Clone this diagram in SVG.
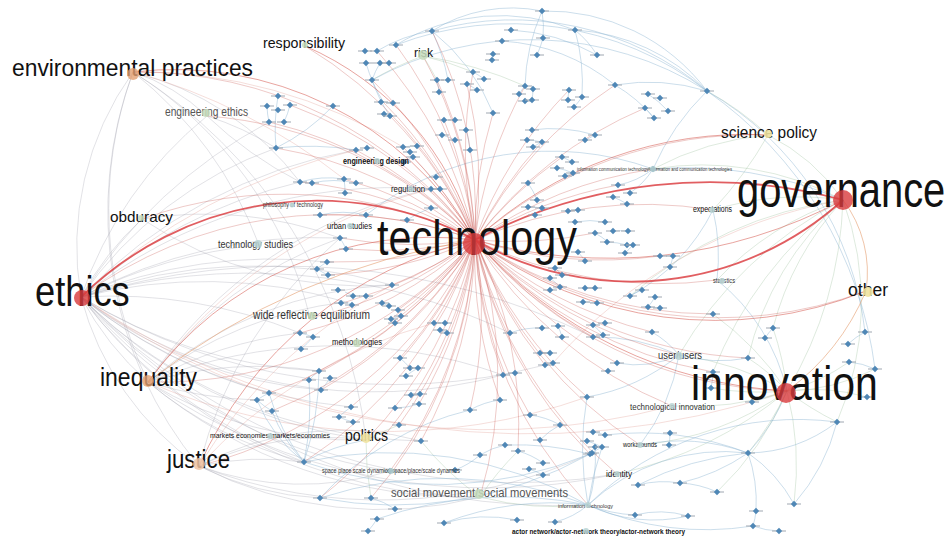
<svg xmlns="http://www.w3.org/2000/svg" width="950" height="538" viewBox="0 0 950 538">
<style>
.e path{fill:none}
.rt{stroke:#c23b35;stroke-width:.8;opacity:.34}
.rk{stroke:#d9363a;stroke-width:1.8;opacity:.8}
.rm{stroke:#d24a40;stroke-width:1;opacity:.5}
.gy{stroke:#9c9ca8;stroke-width:.7;opacity:.42}
.pk{stroke:#e6a8a0;stroke-width:.7;opacity:.55}
.bl{stroke:#8fb6d4;stroke-width:.7;opacity:.65}
.gr{stroke:#a9c9a8;stroke-width:.7;opacity:.55}
.or{stroke:#e39a6a;stroke-width:.9;opacity:.65}
text{font-family:"Liberation Sans",Arial,sans-serif;fill:#111}
.sm{fill:#333}
.gt{fill:#555}
.hub{fill:#d8393c;opacity:.8}
.ora{fill:#e4a072;opacity:.8}
.lor{fill:#eec4a4;opacity:.85}
.yel{fill:#efe3a0;opacity:.9}
.grn{fill:#c5dcbc;opacity:.85}
.bgn{fill:#b9d3d3;opacity:.85}
</style>
<defs>
<g id="bn"><line x1="-7" y1="0" x2="7" y2="0" stroke="#a5adb5" stroke-width="1.4" opacity=".75"/><path d="M0-3.2 3.2 0 0 3.2-3.2 0Z" fill="#4f87b6"/></g>
</defs>
<rect width="950" height="538" fill="#fff"/>
<g id="edges" class="e">
<path class="gy" d="M81 297A500 500 0 0 1 269 122M81 297A500 500 0 0 1 300 182M81 297A500 500 0 0 1 259 245M81 297A500 500 0 0 1 340 238M81 297A500 500 0 0 0 319 371M81 297A500 500 0 0 0 304 462M81 297A500 500 0 0 0 366 440M81 297A500 500 0 0 0 351 407M81 297A500 500 0 0 1 392 285M81 297A500 500 0 0 1 431 189M81 297A500 500 0 0 0 503 375M81 297A500 500 0 0 0 480 497M81 297A500 500 0 0 0 269 393M81 297A500 500 0 0 1 300 333M81 297A300 300 0 0 0 148 382M81 297A300 300 0 0 0 199 466M81 297A400 400 0 0 1 207 116M81 297A300 300 0 0 1 142 219M81 297A600 600 0 0 0 545 365M81 297A600 600 0 0 0 617 474M81 297A500 500 0 0 1 346 302M81 297A500 500 0 0 1 356 150M81 297A500 500 0 0 0 421 441M81 297A500 500 0 0 0 390 471M81 297A500 500 0 0 1 327 262M81 297A700 700 0 0 1 593 337M81 297A600 600 0 0 1 510 333M148 382A400 400 0 0 1 300 333M148 382A400 400 0 0 1 319 371M148 382A400 400 0 0 0 257 400M148 382A400 400 0 0 0 304 462M148 382A400 400 0 0 0 366 440M148 382A400 400 0 0 1 392 285M148 382A400 400 0 0 1 346 302M148 382A500 500 0 0 0 480 497M148 382A400 400 0 0 1 340 238M148 382A600 600 0 0 0 617 474M148 382A500 500 0 0 1 503 375M199 466A300 300 0 0 1 304 462M199 466A300 300 0 0 0 320 498M199 466A300 300 0 0 1 366 440M199 466A300 300 0 0 1 421 441M199 466A300 300 0 0 0 390 471M199 466A400 400 0 0 0 480 497M199 466A500 500 0 0 0 592 453M133 72A400 400 0 0 0 148 382M133 72A400 400 0 0 0 199 466M133 72A300 300 0 0 0 81 297M133 72A400 400 0 0 1 259 245M133 72A400 400 0 0 1 310 318M133 72A300 300 0 0 1 300 182M133 72A200 200 0 0 1 207 116M133 72A500 500 0 0 1 366 440M142 219A400 400 0 0 1 340 238M142 219A400 400 0 0 0 392 285M207 116A300 300 0 0 1 276 148M207 116A400 400 0 0 0 300 182M81 297A400 400 0 0 1 276 148M81 297A450 450 0 0 0 321 390M148 382A450 450 0 0 1 431 189M199 466A450 450 0 0 1 340 238M81 297A650 650 0 0 0 588 505"/>
<path class="pk" d="M81 297A600 600 0 0 1 356 150M148 382A500 500 0 0 1 431 189M199 466A500 500 0 0 1 392 285M133 72A500 500 0 0 1 403 147M81 297A700 700 0 0 0 672 406M148 382A600 600 0 0 0 587 397M199 466A500 500 0 0 1 434 323M133 72A600 600 0 0 1 344 179M81 297A800 800 0 0 0 787 391M843 200A500 500 0 0 0 553 363"/>
<path class="gr" d="M843 200A300 300 0 0 0 713 210M843 200A300 300 0 0 0 653 169M843 200A200 200 0 0 0 768 135M843 200A300 300 0 0 0 717 280M843 200A400 400 0 0 1 787 391M843 200A300 300 0 0 0 748 358M843 200A300 300 0 0 0 773 328M843 200A400 400 0 0 0 713 372M843 200A400 400 0 0 0 630 296M843 200A400 400 0 0 0 679 355M843 200A300 300 0 0 1 837 422M787 391A300 300 0 0 1 752 402M787 391A300 300 0 0 1 748 453M787 391A300 300 0 0 0 837 422M787 391A200 200 0 0 0 849 362M787 391A200 200 0 0 0 875 369M787 391A200 200 0 0 1 867 397M787 391A300 300 0 0 0 773 328M787 391A300 300 0 0 1 711 388M787 391A300 300 0 0 0 679 355M787 391A300 300 0 0 1 672 406M787 391A300 300 0 0 1 640 445M787 391A400 400 0 0 1 617 474M787 391A300 300 0 0 1 717 492M787 391A300 300 0 0 1 794 504M787 391A200 200 0 0 0 748 358M787 391A300 300 0 0 0 713 314M768 135A300 300 0 0 0 707 91M768 135A300 300 0 0 0 653 169M768 135A400 400 0 0 1 713 210M423 56A300 300 0 0 1 473 72M423 56A300 300 0 0 1 437 80M423 56A300 300 0 0 0 372 80M423 56A400 400 0 0 1 525 86M480 497A300 300 0 0 1 421 441M480 497A300 300 0 0 0 588 505M480 497A300 300 0 0 1 518 451M366 440A300 300 0 0 1 399 425M366 440A300 300 0 0 0 371 498"/>
<path class="bl" d="M432 31A150 150 0 0 1 542 11M542 11A200 200 0 0 1 707 91M575 30A200 200 0 0 1 707 91M372 80A330 330 0 0 1 707 91M396 45A320 320 0 0 1 707 91M432 31A300 300 0 0 1 707 91M396 45A200 200 0 0 1 575 30M502 41A200 200 0 0 1 615 85M511 30A200 200 0 0 1 597 55M432 31A200 200 0 0 1 493 113M377 51A150 150 0 0 1 432 31M366 63A150 150 0 0 0 384 103M380 63A100 100 0 0 0 372 80M372 80A150 150 0 0 0 390 116M542 11A100 100 0 0 1 543 38M543 38A100 100 0 0 1 537 55M575 30A100 100 0 0 1 597 55M575 30A200 200 0 0 1 582 97M542 11A200 200 0 0 0 525 86M615 85A150 150 0 0 1 654 118M648 94A100 100 0 0 1 668 111M615 85A200 200 0 0 1 707 91M645 108A100 100 0 0 1 654 118M432 31A200 200 0 0 1 448 80M437 80A80 80 0 0 1 439 92M473 72A80 80 0 0 1 484 79M467 84A80 80 0 0 1 477 90M525 86A80 80 0 0 0 519 94M533 89A80 80 0 0 1 532 100M569 90A80 80 0 0 0 568 100M582 97A80 80 0 0 1 574 107M278 96A200 200 0 0 0 276 148M267 106A80 80 0 0 0 269 122M290 105A80 80 0 0 1 284 122M333 106A200 200 0 0 1 276 148M381 102A80 80 0 0 1 393 103M276 148A300 300 0 0 1 356 150M300 182A100 100 0 0 1 344 179M312 183A100 100 0 0 1 356 183M344 179A80 80 0 0 1 345 193M366 215A100 100 0 0 0 320 215M340 238A80 80 0 0 1 346 249M327 262A80 80 0 0 0 317 269M317 269A80 80 0 0 0 328 275M345 292A80 80 0 0 1 353 296M346 302A80 80 0 0 1 351 304M382 303A80 80 0 0 1 389 306M391 319A80 80 0 0 1 401 316M434 323A80 80 0 0 1 445 323M440 330A80 80 0 0 1 447 333M300 333A80 80 0 0 1 313 337M313 337A80 80 0 0 1 301 349M319 371A80 80 0 0 0 309 380M330 378A80 80 0 0 1 321 390M269 393A80 80 0 0 0 257 400M257 400A80 80 0 0 0 272 411M400 358A80 80 0 0 1 410 368M406 376A80 80 0 0 1 418 368M411 395A80 80 0 0 1 420 394M419 404A80 80 0 0 1 395 408M351 407A80 80 0 0 0 339 417M339 417A80 80 0 0 0 353 422M304 462A150 150 0 0 1 257 400M304 462A150 150 0 0 1 272 411M304 462A200 200 0 0 1 269 393M304 462A200 200 0 0 1 366 440M304 462A400 400 0 0 0 590 454M320 498A400 400 0 0 0 590 454M304 462A300 300 0 0 0 319 371M304 462A300 300 0 0 0 309 380M371 498A80 80 0 0 1 395 509M377 519A80 80 0 0 1 368 531M444 523A150 150 0 0 1 517 520M555 522A80 80 0 0 0 588 505M588 505A150 150 0 0 0 595 447M590 454A80 80 0 0 1 595 447M518 451A80 80 0 0 1 543 463M529 469A80 80 0 0 1 543 475M588 505A300 300 0 0 1 837 422M588 505A200 200 0 0 1 748 453M588 505A300 300 0 0 0 753 526M588 505A150 150 0 0 0 635 515M588 505A150 150 0 0 0 688 516M588 505A400 400 0 0 0 320 498M588 505A400 400 0 0 0 304 462M588 505A400 400 0 0 0 377 519M588 505A300 300 0 0 0 444 523M588 505A300 300 0 0 1 587 397M588 505A300 300 0 0 1 602 447M748 453A150 150 0 0 0 837 422M748 453A150 150 0 0 1 794 504M748 453A150 150 0 0 1 756 511M756 511A80 80 0 0 1 753 526M753 526A80 80 0 0 0 779 531M748 453A200 200 0 0 0 787 391M748 453A200 200 0 0 0 640 445M748 453A200 200 0 0 1 680 483M748 453A300 300 0 0 0 638 485M748 453A300 300 0 0 0 605 435M794 504A200 200 0 0 0 837 422M679 355A100 100 0 0 0 652 332M679 355A200 200 0 0 0 593 337M679 355A100 100 0 0 1 617 363M679 355A150 150 0 0 0 748 358M679 355A200 200 0 0 1 587 397M679 355A200 200 0 0 1 640 445M713 372A80 80 0 0 1 711 388M765 338A80 80 0 0 1 773 328M849 362A80 80 0 0 1 875 369M848 344A80 80 0 0 1 865 332M707 91A320 320 0 0 1 865 332M707 91A400 400 0 0 1 875 369M653 169A80 80 0 0 1 618 185M653 169A80 80 0 0 1 630 193M613 197A80 80 0 0 1 627 204M562 157A80 80 0 0 1 572 162M557 168A80 80 0 0 1 573 173M565 176A80 80 0 0 0 573 173M527 140A80 80 0 0 1 542 142M533 147A80 80 0 0 1 542 142M595 135A80 80 0 0 1 585 140M528 183A80 80 0 0 1 537 200M528 207A80 80 0 0 1 542 208M535 215A80 80 0 0 1 542 208M568 211A80 80 0 0 1 578 210M575 222A80 80 0 0 1 605 222M613 231A80 80 0 0 1 628 231M595 233A80 80 0 0 1 608 242M633 245A80 80 0 0 1 625 253M607 242A80 80 0 0 1 627 245M578 252A80 80 0 0 1 585 261M660 256A80 80 0 0 1 673 256M670 267A80 80 0 0 0 673 256M555 268A80 80 0 0 1 562 275M550 278A80 80 0 0 1 560 287M550 290A80 80 0 0 0 560 287M585 288A80 80 0 0 1 595 288M583 302A80 80 0 0 1 597 303M630 296A80 80 0 0 1 642 290M655 297A80 80 0 0 1 648 307M660 308A80 80 0 0 0 648 307M510 333A80 80 0 0 1 542 328M558 326A80 80 0 0 1 562 337M593 325A80 80 0 0 1 603 335M540 353A80 80 0 0 1 550 353M545 365A80 80 0 0 1 553 363M503 375A80 80 0 0 1 515 373M717 280A200 200 0 0 0 713 210M717 280A200 200 0 0 1 787 391M653 169A300 300 0 0 0 366 215M653 169A400 400 0 0 1 843 200M653 169A250 250 0 0 1 707 91M713 210A200 200 0 0 1 630 296M470 410A80 80 0 0 1 500 400M530 415A80 80 0 0 1 560 425M480 455A80 80 0 0 1 505 445M455 470A80 80 0 0 0 480 455M540 440A80 80 0 0 1 560 425M470 410A300 300 0 0 0 320 498M505 445A300 300 0 0 1 590 454M531 130A150 150 0 0 1 595 135M404 162A100 100 0 0 1 413 157M403 147A80 80 0 0 1 417 146M431 189A80 80 0 0 1 440 189M407 220A100 100 0 0 1 431 208M442 135A80 80 0 0 1 455 140M466 130A80 80 0 0 1 470 150M593 432A80 80 0 0 1 605 435M587 441A80 80 0 0 1 602 447M592 453A80 80 0 0 1 602 447M670 433A80 80 0 0 1 669 445M638 485A100 100 0 0 1 680 483M680 483A100 100 0 0 1 717 492M635 515A100 100 0 0 1 688 516"/>
<path class="rt" d="M475 240A420 420 0 0 0 81 297M475 240A420 420 0 0 0 133 72M475 240A420 420 0 0 1 148 382M475 240A420 420 0 0 1 199 466M475 240A420 420 0 0 0 305 46M475 240A420 420 0 0 0 207 116M475 240A420 420 0 0 0 142 219M475 240A420 420 0 0 1 366 440M475 240A420 420 0 0 1 480 497M475 240A420 420 0 0 0 423 56M475 240A420 420 0 0 1 768 135M475 240A420 420 0 0 0 787 391M475 240A420 420 0 0 0 866 291M475 240A420 420 0 0 0 679 355M475 240A420 420 0 0 0 672 406M475 240A420 420 0 0 0 617 474M475 240A420 420 0 0 1 357 346M475 240A420 420 0 0 1 310 318M475 240A420 420 0 0 0 377 51M475 240A420 420 0 0 0 396 45M475 240A420 420 0 0 0 432 31M475 240A420 420 0 0 0 372 80M475 240A420 420 0 0 0 384 103M475 240A420 420 0 0 0 390 116M475 240A420 420 0 0 0 437 80M475 240A420 420 0 0 0 467 84M475 240A420 420 0 0 1 473 72M475 240A420 420 0 0 0 444 120M475 240A420 420 0 0 1 493 113M475 240A420 420 0 0 1 525 86M475 240A420 420 0 0 1 569 90M475 240A420 420 0 0 1 615 85M475 240A420 420 0 0 1 645 108M475 240A420 420 0 0 0 276 148M475 240A420 420 0 0 0 269 122M475 240A420 420 0 0 0 290 105M475 240A420 420 0 0 0 356 150M475 240A420 420 0 0 0 403 147M475 240A420 420 0 0 0 413 157M475 240A420 420 0 0 0 300 182M475 240A420 420 0 0 0 344 179M475 240A420 420 0 0 0 431 189M475 240A420 420 0 0 0 320 215M475 240A420 420 0 0 1 340 238M475 240A420 420 0 0 1 346 249M475 240A420 420 0 0 1 327 262M475 240A420 420 0 0 1 328 275M475 240A420 420 0 0 1 392 285M475 240A420 420 0 0 1 346 302M475 240A420 420 0 0 1 398 310M475 240A420 420 0 0 1 391 319M475 240A420 420 0 0 1 434 323M475 240A420 420 0 0 1 300 333M475 240A420 420 0 0 1 319 371M475 240A420 420 0 0 1 321 390M475 240A420 420 0 0 1 269 393M475 240A420 420 0 0 1 272 411M475 240A420 420 0 0 1 304 462M475 240A420 420 0 0 1 351 407M475 240A420 420 0 0 1 399 425M475 240A420 420 0 0 1 421 441M475 240A420 420 0 0 1 400 358M475 240A420 420 0 0 1 419 404M475 240A420 420 0 0 1 390 471M475 240A420 420 0 0 1 371 498M475 240A420 420 0 0 1 320 498M475 240A420 420 0 0 0 503 375M475 240A420 420 0 0 0 545 365M475 240A420 420 0 0 0 510 333M475 240A420 420 0 0 0 593 337M475 240A420 420 0 0 0 617 363M475 240A420 420 0 0 0 713 372M475 240A420 420 0 0 1 653 169M475 240A420 420 0 0 1 618 185M475 240A420 420 0 0 1 713 210M475 240A420 420 0 0 0 660 256M475 240A420 420 0 0 0 717 280M475 240A420 420 0 0 0 713 314M475 240A420 420 0 0 0 652 332M475 240A420 420 0 0 1 542 142M475 240A420 420 0 0 1 562 157M475 240A420 420 0 0 0 595 233M475 240A420 420 0 0 1 470 410M475 240A420 420 0 0 0 500 400M475 240A420 420 0 0 0 530 415M475 240A420 420 0 0 0 588 505M475 240A420 420 0 0 0 590 454M475 240A420 420 0 0 0 748 358M475 240A420 420 0 0 0 587 397M475 240A420 420 0 0 1 518 451M475 240A420 420 0 0 0 640 445"/>
<path class="rm" d="M475 240A500 500 0 0 0 843 200M148 382A350 350 0 0 1 475 240M199 466A400 400 0 0 1 475 240M133 72A350 350 0 0 1 475 240M475 240A450 450 0 0 0 787 391M475 240A400 400 0 0 0 866 291M475 240A400 400 0 0 1 768 135M305 46A300 300 0 0 1 475 240"/>
<path class="or" d="M843 200A120 120 0 0 1 866 291M866 291A240 240 0 0 1 787 391M148 382A700 700 0 0 1 475 240"/>
<path class="rk" d="M81 297A337 337 0 0 1 475 240M475 240A506 506 0 0 1 843 200M475 240A315 315 0 0 0 843 200"/>
</g>
<g id="bluenodes">
<use href="#bn" x="542" y="11"/><use href="#bn" x="432" y="31"/><use href="#bn" x="511" y="30"/><use href="#bn" x="575" y="30"/><use href="#bn" x="543" y="38"/><use href="#bn" x="502" y="41"/><use href="#bn" x="396" y="45"/><use href="#bn" x="377" y="51"/><use href="#bn" x="365" y="51"/><use href="#bn" x="366" y="63"/><use href="#bn" x="380" y="63"/><use href="#bn" x="389" y="63"/><use href="#bn" x="493" y="54"/><use href="#bn" x="537" y="55"/><use href="#bn" x="597" y="55"/><use href="#bn" x="492" y="60"/><use href="#bn" x="707" y="91"/><use href="#bn" x="372" y="80"/><use href="#bn" x="473" y="72"/><use href="#bn" x="484" y="79"/><use href="#bn" x="437" y="80"/><use href="#bn" x="448" y="80"/><use href="#bn" x="439" y="92"/><use href="#bn" x="467" y="84"/><use href="#bn" x="477" y="90"/><use href="#bn" x="525" y="86"/><use href="#bn" x="533" y="89"/><use href="#bn" x="519" y="94"/><use href="#bn" x="525" y="101"/><use href="#bn" x="532" y="100"/><use href="#bn" x="569" y="90"/><use href="#bn" x="582" y="97"/><use href="#bn" x="568" y="100"/><use href="#bn" x="574" y="107"/><use href="#bn" x="615" y="85"/><use href="#bn" x="648" y="94"/><use href="#bn" x="660" y="98"/><use href="#bn" x="645" y="108"/><use href="#bn" x="668" y="111"/><use href="#bn" x="654" y="118"/><use href="#bn" x="381" y="102"/><use href="#bn" x="393" y="103"/><use href="#bn" x="384" y="114"/><use href="#bn" x="390" y="116"/><use href="#bn" x="444" y="120"/><use href="#bn" x="455" y="120"/><use href="#bn" x="493" y="113"/>
<use href="#bn" x="278" y="96"/><use href="#bn" x="267" y="106"/><use href="#bn" x="290" y="105"/><use href="#bn" x="278" y="110"/><use href="#bn" x="269" y="122"/><use href="#bn" x="284" y="122"/><use href="#bn" x="276" y="148"/><use href="#bn" x="333" y="106"/>
<use href="#bn" x="356" y="150"/><use href="#bn" x="367" y="148"/><use href="#bn" x="403" y="147"/><use href="#bn" x="417" y="146"/><use href="#bn" x="410" y="152"/><use href="#bn" x="413" y="157"/><use href="#bn" x="404" y="162"/><use href="#bn" x="300" y="182"/><use href="#bn" x="312" y="183"/><use href="#bn" x="344" y="179"/><use href="#bn" x="356" y="183"/><use href="#bn" x="345" y="193"/><use href="#bn" x="431" y="189"/><use href="#bn" x="440" y="189"/><use href="#bn" x="442" y="135"/><use href="#bn" x="455" y="140"/><use href="#bn" x="466" y="130"/><use href="#bn" x="470" y="150"/><use href="#bn" x="436" y="177"/>
<use href="#bn" x="320" y="215"/><use href="#bn" x="366" y="215"/><use href="#bn" x="431" y="208"/><use href="#bn" x="407" y="220"/><use href="#bn" x="340" y="238"/><use href="#bn" x="346" y="249"/><use href="#bn" x="327" y="262"/><use href="#bn" x="317" y="269"/><use href="#bn" x="328" y="275"/><use href="#bn" x="392" y="285"/><use href="#bn" x="338" y="290"/><use href="#bn" x="353" y="296"/><use href="#bn" x="366" y="296"/><use href="#bn" x="341" y="303"/><use href="#bn" x="352" y="305"/><use href="#bn" x="382" y="303"/><use href="#bn" x="389" y="306"/><use href="#bn" x="398" y="310"/><use href="#bn" x="391" y="319"/><use href="#bn" x="401" y="316"/><use href="#bn" x="395" y="323"/><use href="#bn" x="434" y="323"/><use href="#bn" x="445" y="323"/><use href="#bn" x="440" y="330"/><use href="#bn" x="447" y="333"/><use href="#bn" x="300" y="333"/><use href="#bn" x="313" y="337"/><use href="#bn" x="301" y="349"/><use href="#bn" x="319" y="371"/><use href="#bn" x="309" y="380"/><use href="#bn" x="330" y="378"/><use href="#bn" x="321" y="390"/><use href="#bn" x="269" y="393"/><use href="#bn" x="257" y="400"/><use href="#bn" x="272" y="411"/><use href="#bn" x="400" y="358"/><use href="#bn" x="410" y="368"/><use href="#bn" x="418" y="368"/><use href="#bn" x="406" y="376"/><use href="#bn" x="411" y="395"/><use href="#bn" x="420" y="394"/><use href="#bn" x="419" y="404"/><use href="#bn" x="395" y="408"/><use href="#bn" x="351" y="407"/><use href="#bn" x="339" y="417"/><use href="#bn" x="353" y="422"/><use href="#bn" x="399" y="425"/><use href="#bn" x="421" y="441"/><use href="#bn" x="304" y="462"/><use href="#bn" x="390" y="471"/>
<use href="#bn" x="320" y="498"/><use href="#bn" x="371" y="498"/><use href="#bn" x="395" y="509"/><use href="#bn" x="377" y="519"/><use href="#bn" x="368" y="531"/><use href="#bn" x="444" y="523"/><use href="#bn" x="518" y="451"/><use href="#bn" x="543" y="463"/><use href="#bn" x="529" y="469"/><use href="#bn" x="543" y="475"/><use href="#bn" x="517" y="520"/><use href="#bn" x="555" y="522"/><use href="#bn" x="590" y="454"/><use href="#bn" x="595" y="447"/>
<use href="#bn" x="652" y="332"/><use href="#bn" x="773" y="328"/><use href="#bn" x="865" y="332"/><use href="#bn" x="848" y="344"/><use href="#bn" x="765" y="338"/><use href="#bn" x="593" y="325"/><use href="#bn" x="603" y="335"/><use href="#bn" x="593" y="337"/><use href="#bn" x="617" y="363"/><use href="#bn" x="608" y="371"/><use href="#bn" x="713" y="372"/><use href="#bn" x="711" y="388"/><use href="#bn" x="748" y="358"/><use href="#bn" x="752" y="402"/><use href="#bn" x="849" y="362"/><use href="#bn" x="875" y="369"/><use href="#bn" x="867" y="397"/><use href="#bn" x="837" y="422"/><use href="#bn" x="748" y="453"/><use href="#bn" x="670" y="433"/><use href="#bn" x="669" y="445"/><use href="#bn" x="593" y="432"/><use href="#bn" x="605" y="435"/><use href="#bn" x="587" y="441"/><use href="#bn" x="602" y="447"/><use href="#bn" x="592" y="453"/><use href="#bn" x="638" y="485"/><use href="#bn" x="680" y="483"/><use href="#bn" x="717" y="492"/><use href="#bn" x="587" y="397"/><use href="#bn" x="794" y="504"/><use href="#bn" x="756" y="511"/><use href="#bn" x="753" y="526"/><use href="#bn" x="779" y="531"/><use href="#bn" x="635" y="515"/><use href="#bn" x="688" y="516"/>
<use href="#bn" x="607" y="242"/><use href="#bn" x="627" y="245"/><use href="#bn" x="578" y="252"/><use href="#bn" x="585" y="261"/><use href="#bn" x="625" y="253"/><use href="#bn" x="660" y="256"/><use href="#bn" x="673" y="256"/><use href="#bn" x="670" y="267"/><use href="#bn" x="555" y="268"/><use href="#bn" x="550" y="278"/><use href="#bn" x="562" y="275"/><use href="#bn" x="560" y="287"/><use href="#bn" x="550" y="290"/><use href="#bn" x="585" y="288"/><use href="#bn" x="595" y="288"/><use href="#bn" x="583" y="302"/><use href="#bn" x="597" y="303"/><use href="#bn" x="630" y="296"/><use href="#bn" x="642" y="290"/><use href="#bn" x="655" y="297"/><use href="#bn" x="648" y="307"/><use href="#bn" x="660" y="308"/><use href="#bn" x="713" y="314"/><use href="#bn" x="510" y="333"/><use href="#bn" x="542" y="328"/><use href="#bn" x="558" y="326"/><use href="#bn" x="562" y="337"/><use href="#bn" x="605" y="323"/><use href="#bn" x="540" y="353"/><use href="#bn" x="550" y="353"/><use href="#bn" x="545" y="365"/><use href="#bn" x="553" y="363"/><use href="#bn" x="503" y="375"/><use href="#bn" x="515" y="373"/>
<use href="#bn" x="532" y="130"/><use href="#bn" x="595" y="135"/><use href="#bn" x="585" y="140"/><use href="#bn" x="527" y="140"/><use href="#bn" x="542" y="142"/><use href="#bn" x="533" y="147"/><use href="#bn" x="562" y="157"/><use href="#bn" x="572" y="162"/><use href="#bn" x="557" y="168"/><use href="#bn" x="573" y="173"/><use href="#bn" x="565" y="176"/><use href="#bn" x="653" y="169"/><use href="#bn" x="618" y="185"/><use href="#bn" x="630" y="193"/><use href="#bn" x="613" y="197"/><use href="#bn" x="627" y="204"/><use href="#bn" x="528" y="183"/><use href="#bn" x="537" y="200"/><use href="#bn" x="528" y="207"/><use href="#bn" x="542" y="208"/><use href="#bn" x="535" y="215"/><use href="#bn" x="568" y="211"/><use href="#bn" x="578" y="210"/><use href="#bn" x="575" y="222"/><use href="#bn" x="605" y="222"/><use href="#bn" x="613" y="231"/><use href="#bn" x="628" y="231"/><use href="#bn" x="595" y="233"/><use href="#bn" x="633" y="245"/>
<use href="#bn" x="470" y="410"/><use href="#bn" x="500" y="400"/><use href="#bn" x="530" y="415"/><use href="#bn" x="560" y="425"/><use href="#bn" x="480" y="455"/><use href="#bn" x="505" y="445"/><use href="#bn" x="455" y="470"/><use href="#bn" x="540" y="440"/>
</g>
<g id="n-technology"><text transform="translate(377 255) scale(0.827 1)" font-size="50">technology</text><circle class="hub" cx="474" cy="244" r="11"/></g>
<g id="n-governance"><text transform="translate(737 207) scale(0.797 1)" font-size="50">governance</text><circle class="hub" cx="843" cy="200" r="10"/></g>
<g id="n-innovation"><text transform="translate(691 400) scale(0.854 1)" font-size="48">innovation</text><circle class="hub" cx="786" cy="393" r="10"/></g>
<g id="n-ethics"><text transform="translate(35 306) scale(0.864 1)" font-size="42">ethics</text><circle class="hub" cx="82" cy="298" r="8"/></g>
<g id="n-environmental"><text x="12" y="76" font-size="24" textLength="241" lengthAdjust="spacingAndGlyphs">environmental practices</text><circle class="ora" cx="133" cy="74" r="6"/></g>
<g id="n-inequality"><text x="100" y="386" font-size="25" textLength="97" lengthAdjust="spacingAndGlyphs">inequality</text><circle class="ora" cx="148" cy="381" r="6"/></g>
<g id="n-justice"><text x="167" y="468" font-size="25" textLength="63" lengthAdjust="spacingAndGlyphs">justice</text><circle class="lor" cx="199" cy="464" r="6"/></g>
<g id="n-other"><text x="848" y="296" font-size="18" textLength="40" lengthAdjust="spacingAndGlyphs">other</text><circle class="yel" cx="868" cy="292" r="5"/></g>
<g id="n-sciencepolicy"><text x="721" y="138" font-size="16" textLength="96" lengthAdjust="spacingAndGlyphs">science policy</text><circle class="yel" cx="768" cy="134" r="4"/></g>
<g id="n-responsibility"><text x="263" y="48" font-size="15" textLength="82" lengthAdjust="spacingAndGlyphs">responsibility</text><circle class="grn" cx="305" cy="45" r="3"/></g>
<g id="n-risk"><text x="414" y="57" font-size="13" textLength="19" lengthAdjust="spacingAndGlyphs" fill="#7a8a7a">risk</text><circle class="grn" cx="423" cy="55" r="5"/></g>
<g id="n-engethics"><text class="gt" x="165" y="116" font-size="12" textLength="83" lengthAdjust="spacingAndGlyphs">engineering ethics</text><circle class="grn" cx="206" cy="113" r="4"/></g>
<g id="n-obduracy"><text x="110" y="222" font-size="15" textLength="63" lengthAdjust="spacingAndGlyphs">obduracy</text><circle class="grn" cx="141" cy="218" r="3"/></g>
<g id="n-techstudies"><text class="sm" x="218" y="248" font-size="11" textLength="75" lengthAdjust="spacingAndGlyphs">technology studies</text><circle class="bgn" cx="258" cy="244" r="4"/></g>
<g id="n-engdesign"><text x="343" y="164" font-size="9" font-weight="bold" textLength="66" lengthAdjust="spacingAndGlyphs">engineering design</text><circle class="bgn" cx="377" cy="161" r="3"/></g>
<g id="n-regulation"><text x="391" y="192" font-size="9.5" textLength="34" lengthAdjust="spacingAndGlyphs">regulation</text><circle class="bgn" cx="411" cy="189" r="3"/></g>
<g id="n-philtech"><text class="sm" x="263" y="207" font-size="7" textLength="60" lengthAdjust="spacingAndGlyphs">philosophy of technology</text><circle class="bgn" cx="292" cy="205" r="2.5"/></g>
<g id="n-urban"><text x="327" y="229" font-size="9.5" textLength="45" lengthAdjust="spacingAndGlyphs">urban studies</text><circle class="bgn" cx="350" cy="226" r="3"/></g>
<g id="n-wre"><text class="sm" x="253" y="319" font-size="12" textLength="117" lengthAdjust="spacingAndGlyphs">wide reflective equilibrium</text><circle class="grn" cx="312" cy="316" r="4"/></g>
<g id="n-methodologies"><text x="332" y="345" font-size="9.5" textLength="50" lengthAdjust="spacingAndGlyphs">methodologies</text><circle class="grn" cx="357" cy="343" r="4"/></g>
<g id="n-markets"><text x="210" y="438" font-size="8" textLength="120" lengthAdjust="spacingAndGlyphs">markets economies/markets/economies</text><circle class="bgn" cx="270" cy="436" r="3"/></g>
<g id="n-politics"><text x="345" y="441" font-size="16" textLength="43" lengthAdjust="spacingAndGlyphs">politics</text><circle class="yel" cx="366" cy="438" r="5"/></g>
<g id="n-space"><text class="sm" x="322" y="473" font-size="7" textLength="138" lengthAdjust="spacingAndGlyphs">space place scale dynamics/space/place/scale dynamics</text><circle class="bgn" cx="391" cy="471" r="3"/></g>
<g id="n-socialmov"><text class="gt" x="391" y="497" font-size="13" textLength="177" lengthAdjust="spacingAndGlyphs">social movement/social movements</text><circle class="grn" cx="479" cy="494" r="5"/></g>
<g id="n-infotech"><text class="sm" x="558" y="508" font-size="6" textLength="55" lengthAdjust="spacingAndGlyphs">information technology</text><circle class="bgn" cx="588" cy="505" r="3"/></g>
<g id="n-ant"><text x="512" y="534" font-size="8" font-weight="bold" textLength="173" lengthAdjust="spacingAndGlyphs">actor network/actor-network theory/actor-network theory</text><circle class="bgn" cx="586" cy="531" r="3"/></g>
<g id="n-identity"><text x="606" y="477" font-size="9.5" textLength="26" lengthAdjust="spacingAndGlyphs">identity</text><circle class="bgn" cx="617" cy="474" r="3"/></g>
<g id="n-workarounds"><text x="623" y="447" font-size="8" textLength="34" lengthAdjust="spacingAndGlyphs">workarounds</text><circle class="bgn" cx="640" cy="445" r="3"/></g>
<g id="n-techinnov"><text class="sm" x="630" y="410" font-size="9.5" textLength="85" lengthAdjust="spacingAndGlyphs">technological innovation</text><circle class="bgn" cx="672" cy="406" r="3"/></g>
<g id="n-users"><text class="sm" x="658" y="359" font-size="11" textLength="44" lengthAdjust="spacingAndGlyphs">user/users</text><circle class="bgn" cx="679" cy="356" r="4"/></g>
<g id="n-statistics"><text class="sm" x="713" y="283" font-size="7" textLength="22" lengthAdjust="spacingAndGlyphs">statistics</text><circle class="bgn" cx="722" cy="281" r="3"/></g>
<g id="n-expectations"><text x="693" y="212" font-size="8.5" textLength="39" lengthAdjust="spacingAndGlyphs">expectations</text><circle class="bgn" cx="712" cy="210" r="3"/></g>
<g id="n-ict"><text class="sm" x="577" y="171" font-size="5" textLength="155" lengthAdjust="spacingAndGlyphs">information communication technology/information and communication technologies</text><circle class="bgn" cx="653" cy="169" r="3"/></g>
</svg>
